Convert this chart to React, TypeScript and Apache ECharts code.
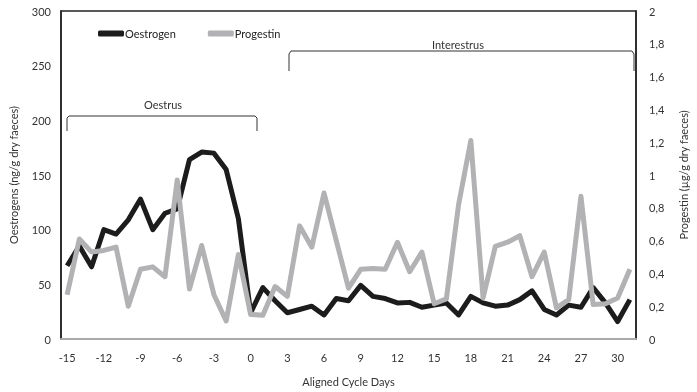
import React, { useEffect, useRef } from "react";
import * as echarts from "echarts";

const days: number[] = [];
for (let d = -15; d <= 31; d++) days.push(d);

const oestrogen = [
  67, 85, 66, 100, 96, 109, 128, 100, 115, 119, 164, 171, 170, 155, 110, 24,
  47, 35, 24, 27, 30, 22, 37, 35, 49, 39, 37, 33, 33.5, 29, 31, 33, 22, 39,
  33, 30, 31, 36, 44, 27, 22, 31, 29, 47, 33, 16, 36,
];

const progestin = [
  0.27, 0.61, 0.53, 0.54, 0.56, 0.2, 0.425, 0.44, 0.38, 0.97, 0.305, 0.57,
  0.27, 0.11, 0.515, 0.15, 0.145, 0.32, 0.26, 0.69, 0.56, 0.89, 0.6, 0.31,
  0.425, 0.43, 0.425, 0.59, 0.41, 0.53, 0.215, 0.245, 0.82, 1.21, 0.25, 0.565,
  0.59, 0.63, 0.38, 0.53, 0.19, 0.24, 0.87, 0.21, 0.215, 0.25, 0.425,
];

const FONT = "Lato, 'Open Sans', sans-serif";
const TXT = "#333";

export default function App() {
  const ref = useRef<HTMLDivElement>(null);
  useEffect(() => {
    if (!ref.current) return;
    const chart = echarts.init(ref.current, undefined, { renderer: "svg" });
    chart.setOption({
      animation: false,
      textStyle: { fontFamily: FONT },
      grid: {
        left: 60,
        right: 55,
        top: 11,
        bottom: 48,
        show: true,
        borderColor: "#222",
        borderWidth: 1.5,
      },
      legend: {
        left: 93,
        top: 23,
        itemWidth: 26,
        itemHeight: 6,
        itemGap: 32,
        icon: "roundRect",
        textStyle: { fontFamily: FONT, fontSize: 11, color: "#222", padding: [0, 0, 0, -4] },
        data: ["Oestrogen", "Progestin"],
      },
      xAxis: {
        type: "category",
        data: days.map(String),
        boundaryGap: true,
        name: "Aligned Cycle Days",
        nameLocation: "middle",
        nameGap: 37,
        nameTextStyle: { fontFamily: FONT, fontSize: 11, color: TXT },
        axisLine: { lineStyle: { color: "#aaa", width: 2 } },
        axisTick: { show: false },
        axisLabel: {
          interval: 2,
          margin: 13,
          fontFamily: FONT,
          fontSize: 11,
          color: TXT,
        },
      },
      yAxis: [
        {
          type: "value",
          min: 0,
          max: 300,
          interval: 50,
          name: "Oestrogens (ng/g dry faeces)",
          nameLocation: "middle",
          nameGap: 42,
          nameTextStyle: { fontFamily: FONT, fontSize: 11, color: TXT },
          axisLine: { show: true, lineStyle: { color: "#222", width: 1.5 } },
          axisTick: { show: false },
          splitLine: { show: false },
          axisLabel: { fontFamily: FONT, fontSize: 11, color: TXT, margin: 10 },
        },
        {
          type: "value",
          min: 0,
          max: 2,
          interval: 0.2,
          position: "right",
          name: "Progestin (µg/g dry faeces)",
          nameLocation: "middle",
          nameGap: 42,
          nameRotate: 90,
          nameTextStyle: { fontFamily: FONT, fontSize: 11, color: TXT },
          axisLine: { show: true, lineStyle: { color: "#222", width: 1.5 } },
          axisTick: { show: false },
          splitLine: { show: false },
          axisLabel: {
            fontFamily: FONT,
            fontSize: 11,
            color: TXT,
            margin: 13,
            formatter: (v: number) => String(+v.toFixed(1)).replace(".", ","),
          },
        },
      ],
      series: [
        {
          name: "Oestrogen",
          type: "line",
          yAxisIndex: 0,
          data: oestrogen,
          showSymbol: false,
          symbol: "none",
          color: "#1c1c1c",
          lineStyle: { width: 5, color: "#1c1c1c", join: "round" },
        },
        {
          name: "Progestin",
          type: "line",
          yAxisIndex: 1,
          data: progestin,
          showSymbol: false,
          symbol: "none",
          color: "#b2b2b4",
          lineStyle: { width: 5, color: "#b2b2b4", join: "round" },
        },
      ],
      graphic: [
        {
          type: "polyline",
          shape: {
            points: [
              [67, 131],
              [67, 118],
              [69, 116],
              [255, 116],
              [257, 118],
              [257, 131],
            ],
          },
          style: { stroke: "#333", lineWidth: 1, fill: "none" },
        },
        {
          type: "text",
          x: 163,
          y: 104,
          style: {
            text: "Oestrus",
            fontFamily: FONT,
            fontSize: 11,
            fill: TXT,
            align: "center",
            verticalAlign: "middle",
          },
        },
        {
          type: "polyline",
          shape: {
            points: [
              [289, 71],
              [289, 54],
              [291, 51],
              [632, 51],
              [634, 54],
              [634, 71],
            ],
          },
          style: { stroke: "#333", lineWidth: 1, fill: "none" },
        },
        {
          type: "text",
          x: 458,
          y: 44,
          style: {
            text: "Interestrus",
            fontFamily: FONT,
            fontSize: 11,
            fill: TXT,
            align: "center",
            verticalAlign: "middle",
          },
        },
      ],
    });
    return () => chart.dispose();
  }, []);
  return (
    <div
      ref={ref}
      style={{ position: "fixed", left: 0, top: 0, width: 697, height: 392 }}
    />
  );
}
